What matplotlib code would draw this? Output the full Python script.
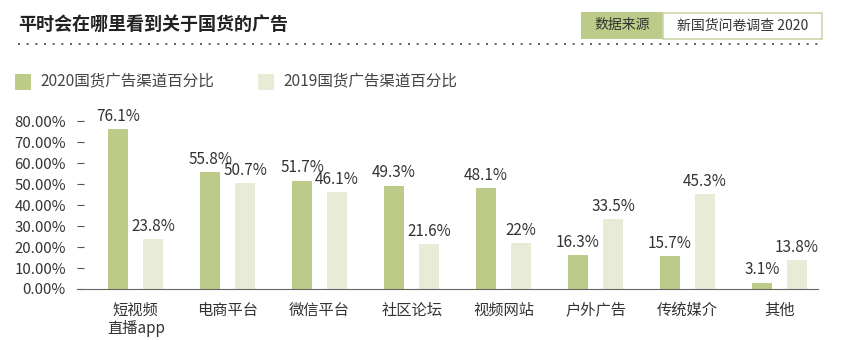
import matplotlib
matplotlib.use("Agg")
import matplotlib.pyplot as plt
from matplotlib.patches import Rectangle
from matplotlib.lines import Line2D
import numpy as np

plt.rcParams['font.family'] = ['Noto Sans CJK SC', 'DejaVu Sans']

categories = ['短视频\n直播app', '电商平台', '微信平台', '社区论坛', '视频网站', '户外广告', '传统媒介', '其他']
vals_2020 = [76.1, 55.8, 51.7, 49.3, 48.1, 16.3, 15.7, 3.1]
vals_2019 = [23.8, 50.7, 46.1, 21.6, 22.0, 33.5, 45.3, 13.8]
series_names = ['2020国货广告渠道百分比', '2019国货广告渠道百分比']
yticks = [0, 10, 20, 30, 40, 50, 60, 70, 80]

c2020 = '#bccb87'
c2019 = '#e8ebd6'
txt = '#333333'

fig = plt.figure(figsize=(8.6, 3.4), dpi=100)

# header
fig.text(18/860, 1-24/340, '平时会在哪里看到关于国货的广告', fontsize=13, fontweight='bold',
         color='#222222', va='center', ha='left')
fig.add_artist(Line2D([18/860, 822/860], [1-44/340, 1-44/340], transform=fig.transFigure,
                      color='#444444', lw=1.2, linestyle=(0, (1.2, 4))))
fig.add_artist(Rectangle((581/860, 1-39/340), 82/860, 27/340, transform=fig.transFigure,
                         facecolor=c2020, edgecolor='none'))
fig.add_artist(Rectangle((663/860, 1-38.5/340), 158.5/860, 25.5/340, transform=fig.transFigure,
                         facecolor='white', edgecolor='#ccd8a8', lw=1.2))
fig.text(622/860, 1-25.5/340, '数据来源', fontsize=10, color='#333333', ha='center', va='center')
fig.text(743/860, 1-25.5/340, '新国货问卷调查 2020', fontsize=10, color='#333333', ha='center', va='center')

# legend
fig.add_artist(Rectangle((15/860, 1-90/340), 16/860, 16/340, transform=fig.transFigure,
                         facecolor=c2020, edgecolor='none'))
fig.text(40/860, 1-82/340, series_names[0], fontsize=11.2, color='#444444', va='center',
         fontweight='light')
fig.add_artist(Rectangle((258/860, 1-90/340), 16/860, 16/340, transform=fig.transFigure,
                         facecolor=c2019, edgecolor='none'))
fig.text(283/860, 1-82/340, series_names[1], fontsize=11.2, color='#444444', va='center',
         fontweight='light')

ax = fig.add_axes([77/860, 1-289/340, 741/860, 174/340])
x = np.arange(len(categories))
w = 0.22
off = 0.19
b1 = ax.bar(x - off, vals_2020, w, color=c2020)
b2 = ax.bar(x + off, vals_2019, w, color=c2019)

for bars, vals in ((b1, vals_2020), (b2, vals_2019)):
    for r, v in zip(bars, vals):
        ax.annotate(f'{v:g}%', (r.get_x() + r.get_width()/2, v), xytext=(0, 3),
                    textcoords='offset points', ha='center', va='bottom',
                    fontsize=11, color=txt, fontweight='light')

ax.set_xlim(-0.64, 7.42)
ax.set_ylim(0, 83)
ax.set_yticks(yticks)
ax.set_yticklabels([f'{t:.2f}%' for t in yticks], fontweight='light')
ax.set_xticks(x)
ax.set_xticklabels(categories, linespacing=1.1, fontweight='light')
ax.tick_params(axis='y', direction='in', length=5, pad=8, labelsize=10.8, labelcolor=txt, color='#555555')
ax.tick_params(axis='x', length=0, pad=9, labelsize=11, labelcolor=txt)
for s in ('top', 'right', 'left'):
    ax.spines[s].set_visible(False)
ax.spines['bottom'].set_color('#666666')

fig.savefig('out.png', dpi=100)
